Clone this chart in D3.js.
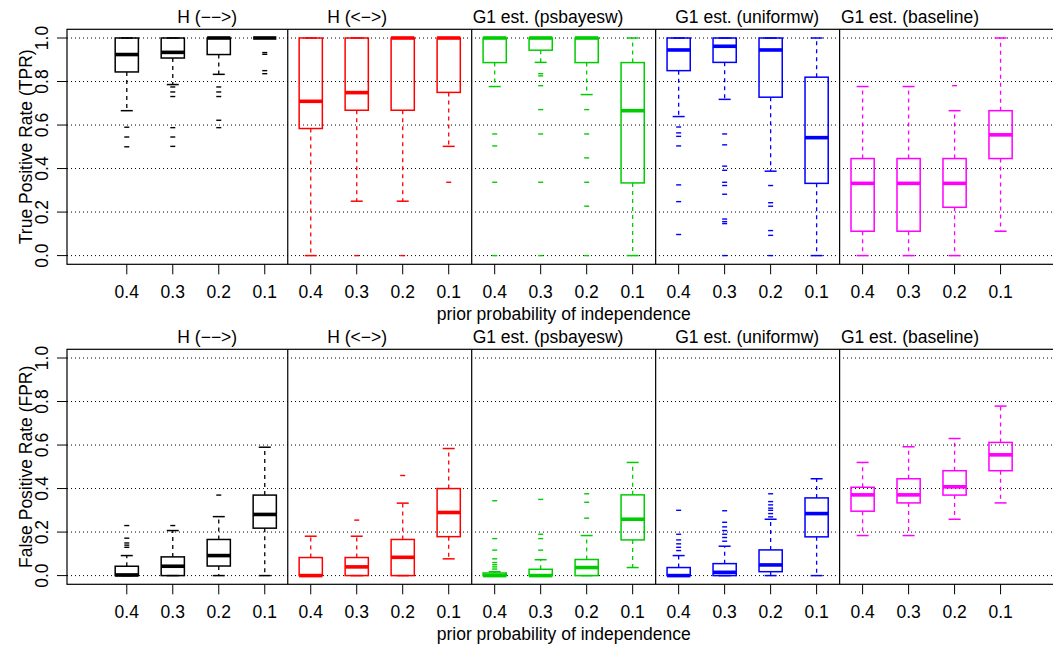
<!DOCTYPE html>
<html>
<head>
<meta charset="utf-8">
<script src="https://d3js.org/d3.v7.min.js"></script>
<style>
  body { margin: 0; background: #fff; }
  svg { font-family: "Liberation Sans", Arial, sans-serif; }
</style>
</head>
<body>
<svg id="chart" width="1053" height="649"></svg>
<script>
  // groups along the x axis
  const priors = ["0.4", "0.3", "0.2", "0.1"];
  const methods = ["H (\u2212\u2212>)", "H (<\u2212>)", "G1 est. (psbayesw)", "G1 est. (uniformw)", "G1 est. (baseline)"];
  const colors = ["#000000", "#ff0000", "#00cd00", "#0000ff", "#ff00ff"];

  // each row: [lower whisker, Q1, median, Q3, upper whisker], priors 0.4, 0.3, 0.2, 0.1
  const tprHdir = [[0.666, 0.844, 0.924, 1, 1], [0.786, 0.908, 0.934, 1, 1], [0.833, 0.924, 1, 1, 1], [1, 1, 1, 1, 1]];
  const tprHbi = [[0, 0.584, 0.709, 1, 1], [0.25, 0.668, 0.749, 1, 1], [0.25, 0.668, 1, 1, 1], [0.502, 0.75, 1, 1, 1]];
  const tprPsb = [[0.777, 0.887, 1, 1, 1], [0.888, 0.944, 1, 1, 1], [0.74, 0.887, 1, 1, 1], [0, 0.334, 0.666, 0.887, 1]];
  const tprUni = [[0.639, 0.85, 0.945, 1, 1], [0.718, 0.888, 0.962, 1, 1], [0.388, 0.728, 0.945, 1, 1], [0, 0.332, 0.542, 0.82, 1]];
  const tprBase = [[0, 0.112, 0.332, 0.446, 0.777], [0, 0.112, 0.332, 0.446, 0.777], [0, 0.222, 0.332, 0.446, 0.666], [0.112, 0.446, 0.555, 0.666, 1]];

  const tprOutHdir = [[0.59, 0.545, 0.5], [0.775, 0.752, 0.731, 0.588, 0.545, 0.502], [0.775, 0.752, 0.731, 0.622, 0.588], [0.933, 0.925, 0.85, 0.836]];
  const tprOutHbi = [[], [0], [0], [0.337]];
  const tprOutPsb = [[0.559, 0.504, 0.337, 0], [0.836, 0.826, 0.781, 0.671, 0.559, 0.337, 0], [0.671, 0.559, 0.449, 0.337, 0.227, 0], []];
  const tprOutUni = [[0.591, 0.564, 0.548, 0.504, 0.325, 0.248, 0.097], [0.559, 0.509, 0.411, 0.392, 0.337, 0.322, 0.282, 0.168, 0.156, 0.147, 0], [0.322, 0.243, 0.227, 0.115, 0.093, 0], []];
  const tprOutBase = [[], [], [0.781], []];

  const fprHdir = [[0, 0, 0.003, 0.043, 0.092], [0, 0, 0.043, 0.086, 0.207], [0, 0.044, 0.092, 0.166, 0.271], [0, 0.218, 0.281, 0.37, 0.59]];
  const fprHbi = [[0, 0, 0, 0.083, 0.181], [0, 0, 0.04, 0.083, 0.181], [0, 0, 0.084, 0.166, 0.333], [0.077, 0.179, 0.29, 0.4, 0.584]];
  const fprPsb = [[0, 0, 0, 0.012, 0.018], [0, 0, 0, 0.029, 0.073], [0, 0, 0.037, 0.074, 0.184], [0.037, 0.164, 0.259, 0.371, 0.52]];
  const fprUni = [[0, 0, 0, 0.037, 0.092], [0, 0, 0.015, 0.055, 0.135], [0, 0.018, 0.049, 0.118, 0.259], [0, 0.178, 0.285, 0.357, 0.445]];
  const fprBase = [[0.184, 0.296, 0.371, 0.406, 0.52], [0.184, 0.334, 0.371, 0.445, 0.592], [0.259, 0.37, 0.408, 0.482, 0.63], [0.334, 0.482, 0.555, 0.612, 0.779]];

  const fprOutHdir = [[0.13, 0.14, 0.15, 0.172, 0.23], [0.23], [0.37], []];
  const fprOutHbi = [[], [0.255], [0.46], []];
  const fprOutPsb = [[0.03, 0.04, 0.05, 0.06, 0.077, 0.117, 0.17, 0.344], [0.117, 0.17, 0.19, 0.35], [0.264, 0.337, 0.376], []];
  const fprOutUni = [[0.115, 0.13, 0.146, 0.164, 0.19, 0.3], [0.158, 0.175, 0.19, 0.207, 0.224, 0.245, 0.298], [0.27, 0.285, 0.3, 0.31, 0.325, 0.34, 0.376], []];
  const fprOutBase = [[], [], [], []];

  const yTicks = [0, 0.2, 0.4, 0.6, 0.8, 1.0];

  const svg = d3.select("#chart");
  const W = 1053;
  const left = 67;

  // 20 boxes at positions 1..20
  const x = d3.scaleLinear().domain([-0.3, 21.14]).range([left, W]);
  const halfBox = 11.6, halfCap = 6, halfOut = 2.5;
  // title centres (in box-position units)
  const titlePos = [2.75, 6.01, 10.16, 14.49, 18.03];

  function panel(top, stats, outs, ylab) {
    const bottom = top + 235;
    const y = d3.scaleLinear().domain([-0.04, 1.04]).range([bottom, top]);
    const g = svg.append("g");

    // dotted grid
    g.selectAll(".grid").data(yTicks).enter().append("line")
      .attr("x1", left).attr("x2", W)
      .attr("y1", d => y(d)).attr("y2", d => y(d))
      .attr("stroke", "#000").attr("stroke-width", 1)
      .attr("stroke-dasharray", "1,3");

    // y axis ticks + labels
    g.selectAll(".yt").data(yTicks).enter().append("line")
      .attr("x1", left - 10).attr("x2", left)
      .attr("y1", d => y(d)).attr("y2", d => y(d))
      .attr("stroke", "#000");
    g.selectAll(".yl").data(yTicks).enter().append("text")
      .attr("transform", d => `translate(48,${y(d)}) rotate(-90)`)
      .attr("text-anchor", "middle").attr("font-size", 17.5)
      .text(d => d.toFixed(1));
    g.append("text")
      .attr("transform", `translate(32,${(y(0) + y(1)) / 2}) rotate(-90)`)
      .attr("text-anchor", "middle").attr("font-size", 17.5)
      .text(ylab);

    // frame and separators
    g.append("rect").attr("x", left).attr("y", top)
      .attr("width", W + 2 - left).attr("height", bottom - top)
      .attr("fill", "none").attr("stroke", "#000").attr("stroke-width", 1.2);
    [4.5, 8.5, 12.5, 16.5].forEach(p => {
      g.append("line").attr("x1", x(p)).attr("x2", x(p))
        .attr("y1", top).attr("y2", bottom)
        .attr("stroke", "#000").attr("stroke-width", 1.2);
    });

    // titles
    methods.forEach((m, i) => {
      g.append("text").attr("x", x(titlePos[i])).attr("y", top - 6)
        .attr("text-anchor", "middle").attr("font-size", 17.5).text(m);
    });

    // x ticks and labels
    const pos = d3.range(1, 21);
    g.selectAll(".xt").data(pos).enter().append("line")
      .attr("x1", d => x(d)).attr("x2", d => x(d))
      .attr("y1", bottom).attr("y2", bottom + 10)
      .attr("stroke", "#000");
    g.selectAll(".xl").data(pos).enter().append("text")
      .attr("x", d => x(d)).attr("y", bottom + 34)
      .attr("text-anchor", "middle").attr("font-size", 17.5)
      .text(d => priors[(d - 1) % 4]);
    g.append("text").attr("x", x(10.5)).attr("y", bottom + 56)
      .attr("text-anchor", "middle").attr("font-size", 17.5)
      .text("prior probability of independence");

    // boxes
    stats.forEach((rows, mi) => {
      const col = colors[mi];
      rows.forEach((s, pi) => {
        const cx = x(mi * 4 + pi + 1);
        const [lo, q1, med, q3, hi] = s;
        const bg = g.append("g").attr("stroke", col).attr("fill", "none");
        // whiskers
        bg.append("line").attr("x1", cx).attr("x2", cx).attr("y1", y(q3)).attr("y2", y(hi))
          .attr("stroke-width", 1.3).attr("stroke-dasharray", "4,4");
        bg.append("line").attr("x1", cx).attr("x2", cx).attr("y1", y(q1)).attr("y2", y(lo))
          .attr("stroke-width", 1.3).attr("stroke-dasharray", "4,4");
        [lo, hi].forEach(v => {
          bg.append("line").attr("x1", cx - halfCap).attr("x2", cx + halfCap)
            .attr("y1", y(v)).attr("y2", y(v)).attr("stroke-width", 1.5);
        });
        // box
        bg.append("rect").attr("x", cx - halfBox).attr("y", y(q3))
          .attr("width", 2 * halfBox).attr("height", Math.max(0, y(q1) - y(q3)))
          .attr("stroke-width", 1.5);
        // median
        bg.append("line").attr("x1", cx - halfBox).attr("x2", cx + halfBox)
          .attr("y1", y(med)).attr("y2", y(med)).attr("stroke-width", 3.6);
        // outliers
        outs[mi][pi].forEach(v => {
          bg.append("line").attr("x1", cx - halfOut).attr("x2", cx + halfOut)
            .attr("y1", y(v)).attr("y2", y(v)).attr("stroke-width", 1.4);
        });
      });
    });
  }

  panel(29.3, [tprHdir, tprHbi, tprPsb, tprUni, tprBase],
    [tprOutHdir, tprOutHbi, tprOutPsb, tprOutUni, tprOutBase], "True Positive Rate (TPR)");
  panel(349.3, [fprHdir, fprHbi, fprPsb, fprUni, fprBase],
    [fprOutHdir, fprOutHbi, fprOutPsb, fprOutUni, fprOutBase], "False Positive Rate (FPR)");
</script>
</body>
</html>
